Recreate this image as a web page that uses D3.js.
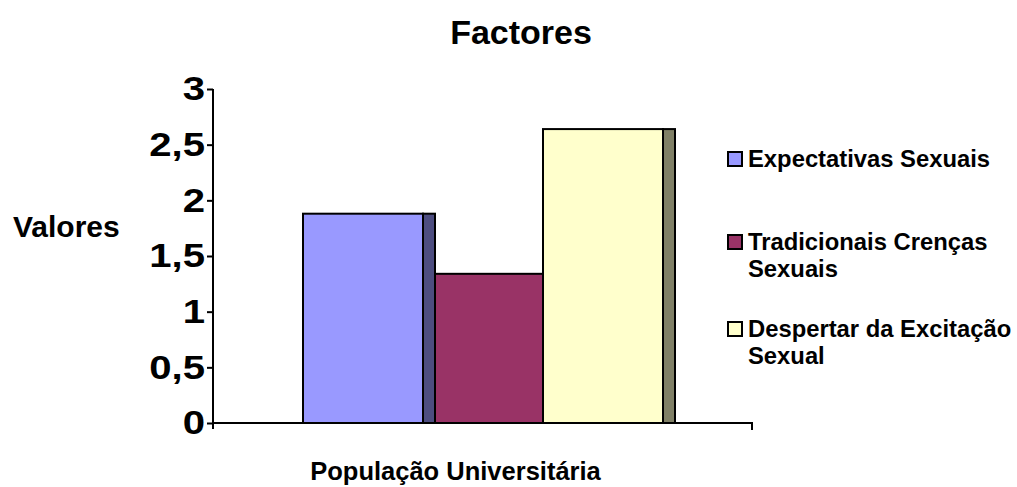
<!DOCTYPE html>
<html>
<head>
<meta charset="utf-8">
<script src="https://cdn.jsdelivr.net/npm/d3@7"></script>
<style>
  body { margin: 0; background: #fff; }
  svg { display: block; font-family: "Liberation Sans", Arial, sans-serif; font-weight: bold; }
</style>
</head>
<body>
<div id="chart"></div>
<script>
// chart data
var categories = ["População Universitária"];
var seriesNames = ["Expectativas Sexuais", "Tradicionais Crenças Sexuais", "Despertar da Excitação Sexual"];
var seriesValues = [1.88, 1.34, 2.64];
var seriesColors = ["#9999FF", "#993366", "#FFFFCC"];
var sideColors = ["#4D4D80", "#4D1A33", "#808066"];
var legendLines = [["Expectativas Sexuais"], ["Tradicionais Crenças", "Sexuais"], ["Despertar da Excitação", "Sexual"]];
var yTicks = [0, 0.5, 1, 1.5, 2, 2.5, 3];

var width = 1017,
    height = 487;
var plot = {left: 213, right: 752, top: 89, bottom: 423};
var depth = 12;

var svg = d3.select("#chart").append("svg")
    .attr("width", width)
    .attr("height", height);

var y = d3.scaleLinear().domain([0, 3]).range([plot.bottom, plot.top]);

var x0 = d3.scaleBand().domain(categories).range([plot.left, plot.right]);
var x1 = d3.scaleBand().domain(seriesNames)
    .range([x0(categories[0]) + 90, x0(categories[0]) + x0.bandwidth() - 89]);

// bars: fronts first, then the visible sides
var bars = svg.append("g");
seriesNames.forEach(function(name, i) {
    bars.append("rect")
        .attr("x", x1(name))
        .attr("y", y(seriesValues[i]))
        .attr("width", x1.bandwidth())
        .attr("height", y(0) - y(seriesValues[i]))
        .attr("fill", seriesColors[i])
        .attr("stroke", "#000")
        .attr("stroke-width", 2);
    // side of previous bar shows on top if it is taller
    if (i > 0 && seriesValues[i - 1] > seriesValues[i]) drawSide(i - 1);
});
drawSide(seriesNames.length - 1);

function drawSide(i) {
    bars.append("rect")
        .attr("x", x1(seriesNames[i]) + x1.bandwidth())
        .attr("y", y(seriesValues[i]))
        .attr("width", depth)
        .attr("height", y(0) - y(seriesValues[i]))
        .attr("fill", sideColors[i])
        .attr("stroke", "#000")
        .attr("stroke-width", 2);
}

// axes
var yAxis = d3.axisLeft(y).tickValues(yTicks).tickSize(6).tickPadding(2)
    .tickFormat(function(d) { return String(d).replace(".", ","); });
var gy = svg.append("g")
    .attr("transform", "translate(" + plot.left + ",0)")
    .call(yAxis);
gy.select(".domain").attr("d", "M0," + plot.top + "V" + (plot.bottom + 6)).attr("stroke-width", 2);
gy.selectAll(".tick line").attr("stroke-width", 2);
// the tick labels are drawn a little wider than the font
gy.selectAll(".tick text")
    .attr("font-size", 34)
    .attr("font-family", "Liberation Sans, Arial, sans-serif")
    .attr("font-weight", "bold")
    .attr("fill", "#000")
    .attr("transform", function() {
        var tx = +d3.select(this).attr("x");
        return "translate(" + tx + ",0) scale(1.18,1) translate(" + (-tx) + ",0)";
    });

var xAxis = d3.axisBottom(x0).tickSize(0).tickFormat("");
var gx = svg.append("g")
    .attr("transform", "translate(0," + plot.bottom + ")")
    .call(xAxis);
gx.select(".domain")
    .attr("d", "M" + plot.left + ",0H" + plot.right + "V7")
    .attr("stroke-width", 2);

// titles
svg.append("text")
    .attr("x", 521).attr("y", 44)
    .attr("text-anchor", "middle")
    .attr("font-size", 34)
    .text("Factores");

svg.append("text")
    .attr("x", 13).attr("y", 237)
    .attr("font-size", 30)
    .text("Valores");

svg.append("text")
    .attr("x", x0(categories[0]) + x0.bandwidth() / 2 - 27).attr("y", 480)
    .attr("text-anchor", "middle")
    .attr("font-size", 25.5)
    .text(categories[0]);

// legend
var legendY = [167, 250, 337];
var legend = svg.append("g");
seriesNames.forEach(function(name, i) {
    legend.append("rect")
        .attr("x", 728).attr("y", legendY[i] - 15)
        .attr("width", 14).attr("height", 14)
        .attr("fill", seriesColors[i])
        .attr("stroke", "#000")
        .attr("stroke-width", 2);
    var t = legend.append("text")
        .attr("x", 748).attr("y", legendY[i])
        .attr("font-size", 23.8);
    legendLines[i].forEach(function(line, j) {
        t.append("tspan").attr("x", 748).attr("dy", j ? 27 : 0).text(line);
    });
});
</script>
</body>
</html>
